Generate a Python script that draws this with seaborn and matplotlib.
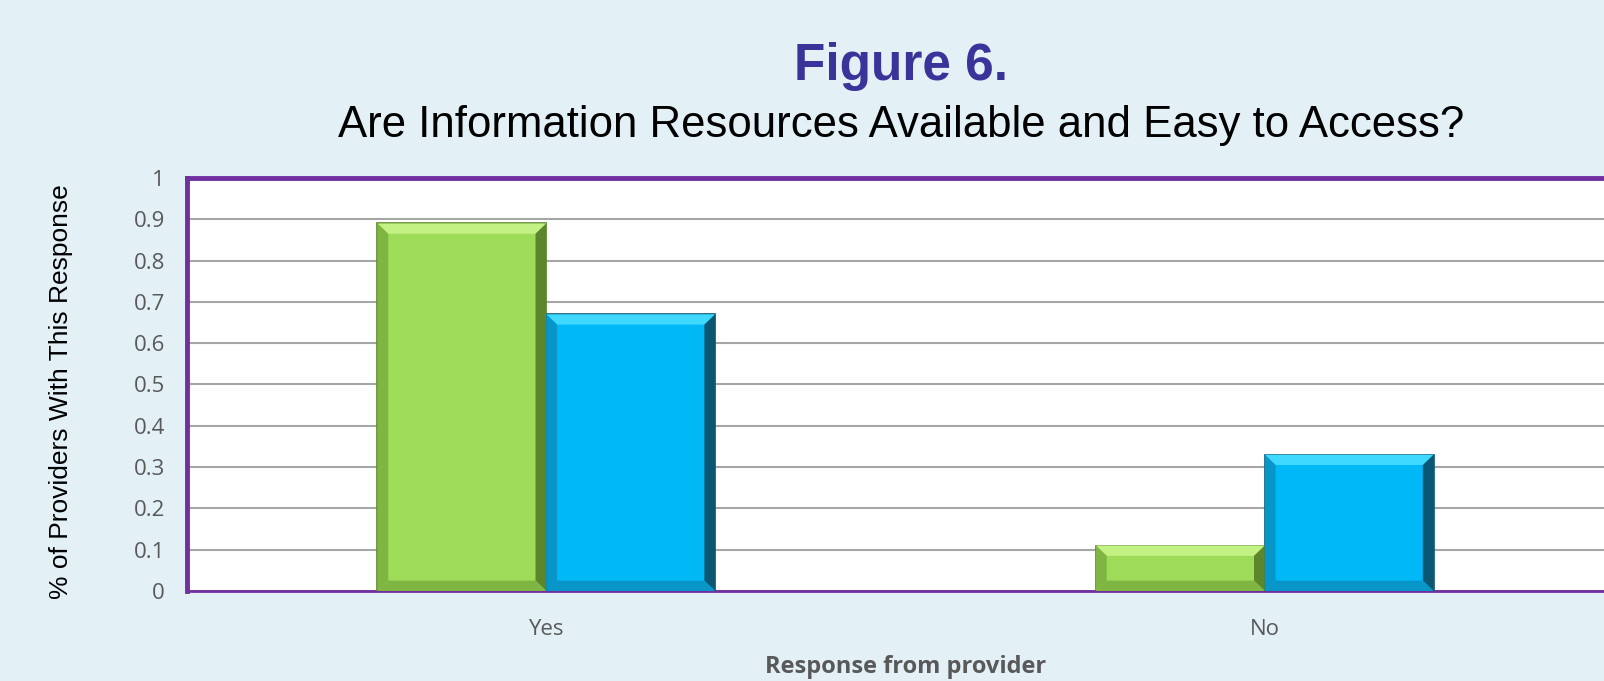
import pandas as pd
import matplotlib
matplotlib.use("Agg")
import matplotlib.pyplot as plt
from matplotlib.patches import Polygon
import seaborn as sns

# values
responses = ["Yes", "No"]
group_a = [0.89, 0.11]   # green bars
group_b = [0.67, 0.33]   # blue bars
yticks = [0, 0.1, 0.2, 0.3, 0.4, 0.5, 0.6, 0.7, 0.8, 0.9, 1]
ytick_labels = ["0", "0.1", "0.2", "0.3", "0.4", "0.5", "0.6", "0.7", "0.8", "0.9", "1"]

df = pd.DataFrame({
    "response": responses * 2,
    "group": ["A"] * len(responses) + ["B"] * len(responses),
    "share": group_a + group_b,
})

sns.set_style("white")
plt.rcParams["font.family"] = ["Liberation Sans", "DejaVu Sans"]

bg = "#E3F1F7"
purple = "#7030A0"
green = "#9EDB58"
blue = "#00B8F6"
# (highlight, side shade, dark rim) for the bevel look
shades = {green: ("#C3F184", "#7FB542", "#5C862C"),
          blue: ("#3FD9FF", "#0896C8", "#0A5673")}

fig = plt.figure(figsize=(16.04, 6.81), dpi=100)
fig.patch.set_facecolor(bg)
ax = fig.add_axes([0.1166, 0.1322, 0.8959, 0.6064])
ax.set_facecolor("white")

sns.barplot(data=df, x="response", y="share", hue="group",
            palette=[green, blue], width=0.47, gap=0, legend=False,
            saturation=1, ax=ax, zorder=3)

ax.set_xlim(-0.5, 1.5)
ax.set_ylim(0, 1)

# bevel: light top edge, darker sides, taken from each drawn bar
dx, dy = 0.015, 0.025
for bar, col in zip(ax.patches, [green] * 2 + [blue] * 2):
    hi, mid, dark = shades[col]
    bar.set_edgecolor(dark)
    bar.set_linewidth(1.2)
    x0, y0 = bar.get_x(), bar.get_y()
    x1, y1 = x0 + bar.get_width(), y0 + bar.get_height()
    ax.add_patch(Polygon([(x0, y1), (x1, y1), (x1 - dx, y1 - dy), (x0 + dx, y1 - dy)],
                         closed=True, facecolor=hi, edgecolor="none", zorder=4))
    ax.add_patch(Polygon([(x1, y1), (x1, y0), (x1 - dx, y0 + dy), (x1 - dx, y1 - dy)],
                         closed=True, facecolor=dark, edgecolor="none", zorder=4))
    ax.add_patch(Polygon([(x0, y1), (x0, y0), (x0 + dx, y0 + dy), (x0 + dx, y1 - dy)],
                         closed=True, facecolor=mid, edgecolor="none", zorder=4))
    ax.add_patch(Polygon([(x0, y0), (x1, y0), (x1 - dx, y0 + dy), (x0 + dx, y0 + dy)],
                         closed=True, facecolor=mid, edgecolor="none", zorder=4))

ax.set_yticks(yticks)
ax.set_yticklabels(ytick_labels)
ax.yaxis.grid(True, color="#A6A6A6", linewidth=1.5, zorder=0)
ax.set_axisbelow(True)
ax.tick_params(axis="y", length=0, pad=16, labelsize=16, labelcolor="#595959")
ax.tick_params(axis="x", length=0, pad=20, labelsize=16, labelcolor="#595959")
for lab in ax.get_xticklabels() + ax.get_yticklabels():
    lab.set_family(["Open Sans", "DejaVu Sans"])

for side in ["left", "top"]:
    ax.spines[side].set_color(purple)
    ax.spines[side].set_linewidth(3.5)
ax.spines["bottom"].set_color(purple)
ax.spines["bottom"].set_linewidth(2)
ax.spines["right"].set_visible(False)

ax.set_xlabel("Response from provider", fontsize=17, fontweight="bold",
              color="#595959", labelpad=11, family=["Open Sans", "DejaVu Sans"])
ax.set_ylabel("")

fig.text(0.038, 0.425, "% of Providers With This Response", rotation=90,
         ha="center", va="center", fontsize=19, color="black")
fig.text(0.562, 0.8825, "Figure 6.", ha="center", va="baseline", fontsize=37,
         fontweight="bold", color="#3A3399")
fig.text(0.562, 0.799, "Are Information Resources Available and Easy to Access?",
         ha="center", va="baseline", fontsize=31.5, color="black")

fig.savefig("out.png", dpi=100, facecolor=bg)
